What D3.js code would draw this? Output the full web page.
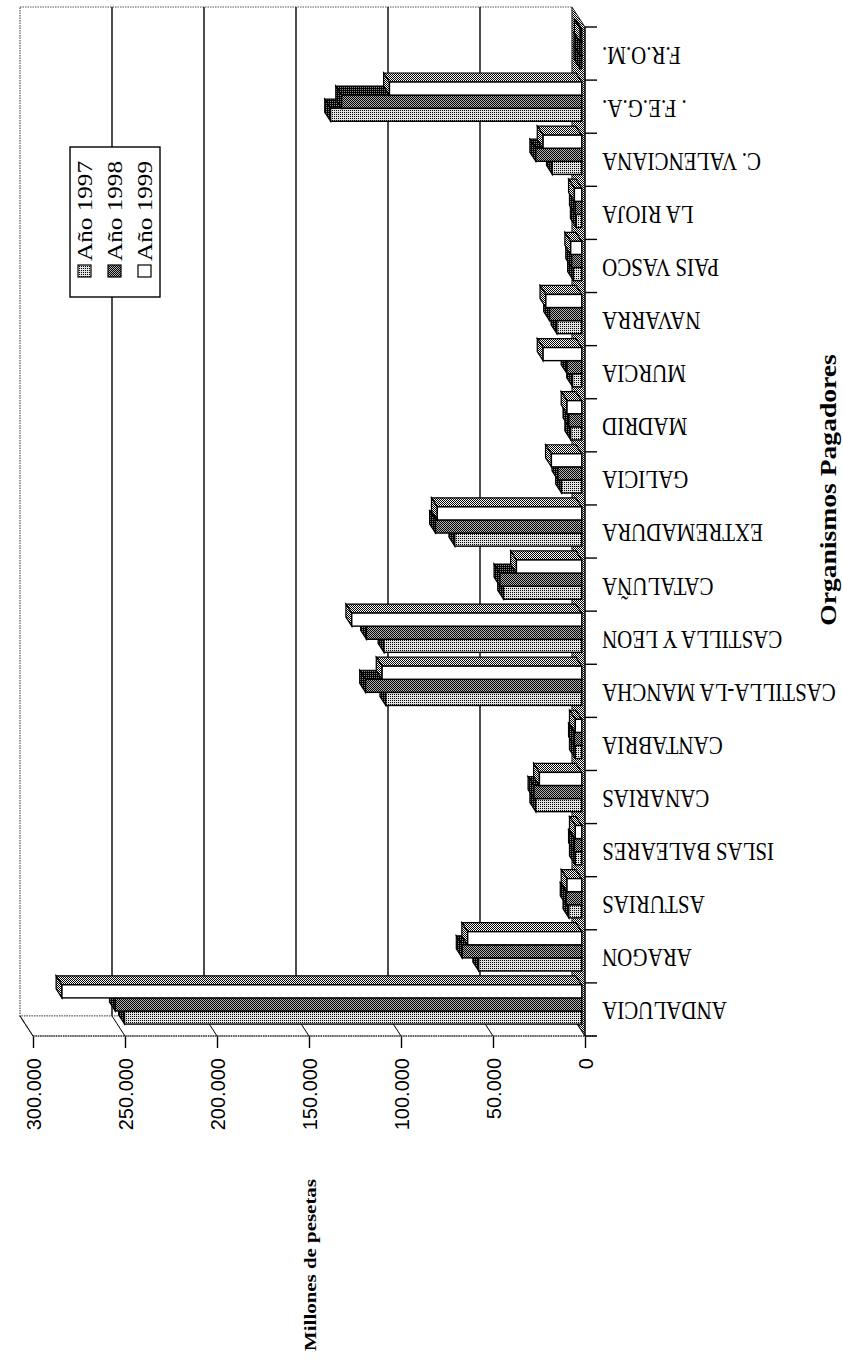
<!DOCTYPE html>
<html>
<head>
<meta charset="utf-8">
<script src="https://cdn.jsdelivr.net/npm/d3@7"></script>
<style>
  body { margin: 0; background: #fff; }
</style>
</head>
<body>
<div class="chart"></div>
<script>
// data (millones de pesetas)
var categories = ["ANDALUCIA", "ARAGON", "ASTURIAS", "ISLAS BALEARES", "CANARIAS", "CANTABRIA",
  "CASTILLA-LA MANCHA", "CASTILLA Y LEON", "CATALUÑA", "EXTREMADURA", "GALICIA", "MADRID",
  "MURCIA", "NAVARRA", "PAIS VASCO", "LA RIOJA", "C. VALENCIANA", ". F.E.G.A.", "F.R.O.M."];
var seriesNames = ["Año 1997", "Año 1998", "Año 1999"];
var y1997 = [248500, 56000, 7000, 3500, 25000, 3500, 106500, 107500, 42500, 69000, 11000, 6000, 5000, 13500, 4500, 3000, 16000, 136500, 1000];
var y1998 = [253500, 65000, 8500, 4000, 26000, 4000, 117500, 117000, 44500, 79500, 13000, 7000, 8000, 17500, 5500, 3500, 25000, 130500, 1000];
var y1999 = [282500, 62000, 8000, 3500, 23000, 3500, 108500, 125000, 35500, 78500, 16500, 8000, 21000, 19500, 6000, 4000, 21000, 104500, 800];
var valueTicks = [0, 50000, 100000, 150000, 200000, 250000, 300000];

var svgWidth = 843;
var svgHeight = 1369;

// front plane of the chart and the 3D depth offset
var front = { left: 33, right: 585, top: 27, bottom: 1036 };
var DX = -13, DY = -20;

var svg = d3.select(".chart")
  .append("svg")
  .attr("width", svgWidth)
  .attr("height", svgHeight)
  .style("font-family", "'Liberation Serif', 'Times New Roman', serif");

// stipple patterns like the printed greys
var defs = svg.append("defs");
function makePattern(id, size, bg, cells) {
  var p = defs.append("pattern")
    .attr("id", id)
    .attr("width", size)
    .attr("height", size)
    .attr("patternUnits", "userSpaceOnUse");
  p.append("rect").attr("width", size).attr("height", size).attr("fill", bg);
  cells.forEach(function (c) {
    p.append("rect").attr("x", c[0]).attr("y", c[1]).attr("width", 1).attr("height", 1).attr("fill", "#000");
  });
}
makePattern("p97", 2, "#e2e2e2", [[0, 0]]);
makePattern("p98", 2, "#b0b0b0", [[0, 0], [1, 1]]);
makePattern("pwall", 2, "#fff", [[0, 0], [1, 1]]);
makePattern("pside", 2, "#888", [[0, 0], [1, 1], [1, 0]]);
makePattern("pside99", 2, "#fff", [[0, 0], [1, 1]]);

var frontFill = { "Año 1997": "url(#p97)", "Año 1998": "url(#p98)", "Año 1999": "#fff" };
var sideFill = { "Año 1997": "url(#pside)", "Año 1998": "url(#pside)", "Año 1999": "url(#pside99)" };

// scales
var xScale = d3.scaleLinear()
  .domain([0, 300000])
  .range([front.right, front.left]);

var yScale = d3.scaleBand()
  .domain(categories)
  .range([front.bottom, front.top]);

var bw = yScale.bandwidth();
var ySub = d3.scaleBand()
  .domain(["Año 1999", "Año 1998", "Año 1997"])
  .range([0.13 * bw, 0.87 * bw]);

// back wall with gridlines
var backLeft = front.left + DX, backRight = front.right + DX;
var backTop = front.top + DY, backBottom = front.bottom + DY;

svg.append("rect")
  .attr("x", backLeft)
  .attr("y", backTop)
  .attr("width", backRight - backLeft)
  .attr("height", backBottom - backTop)
  .attr("fill", "#fff")
  .attr("stroke", "#555")
  .attr("stroke-width", 1.2)
  .attr("stroke-dasharray", "1.5,1");

svg.append("g")
  .selectAll("line")
  .data(valueTicks.filter(function (v) { return v > 0 && v < 300000; }))
  .enter()
  .append("line")
  .attr("x1", function (d) { return xScale(d) + DX; })
  .attr("x2", function (d) { return xScale(d) + DX; })
  .attr("y1", backTop)
  .attr("y2", backBottom)
  .attr("stroke", "#000")
  .attr("stroke-width", 1.4);

// side wall along the category axis
svg.append("polygon")
  .attr("points", [[front.right, front.top], [front.right, front.bottom],
    [backRight, backBottom], [backRight, backTop]].join(" "))
  .attr("fill", "url(#pwall)")
  .attr("stroke", "#333")
  .attr("stroke-width", 1);

// floor along the value axis
svg.append("polygon")
  .attr("points", [[front.left, front.bottom], [front.right, front.bottom],
    [backRight, backBottom], [backLeft, backBottom]].join(" "))
  .attr("fill", "#fff")
  .attr("stroke", "#666")
  .attr("stroke-width", 1.2)
  .attr("stroke-dasharray", "1.5,1");

svg.append("g")
  .selectAll("line")
  .data(valueTicks)
  .enter()
  .append("line")
  .attr("x1", function (d) { return xScale(d); })
  .attr("x2", function (d) { return xScale(d) + DX; })
  .attr("y1", front.bottom)
  .attr("y2", backBottom)
  .attr("stroke", "#000")
  .attr("stroke-width", 1);

// bars: drawn bottom-up so upper bars cover the hidden top faces
var f1 = 0.25, f2 = 0.7;
var ex = DX * (f2 - f1), ey = DY * (f2 - f1);
var seriesValues = { "Año 1997": y1997, "Año 1998": y1998, "Año 1999": y1999 };

var barData = [];
categories.forEach(function (c, i) {
  seriesNames.forEach(function (s) {
    barData.push({ cat: c, series: s, value: seriesValues[s][i] });
  });
});

var barGroup = svg.append("g");
barData.forEach(function (d) {
  var yt = yScale(d.cat) + ySub(d.series) + DY * f1;
  var yb = yt + ySub.bandwidth();
  var xr = xScale(0) + DX * f1;
  var xl = xScale(d.value) + DX * f1;
  var g = barGroup.append("g");
  // top face
  g.append("polygon")
    .attr("points", [[xl, yt], [xr, yt], [xr + ex, yt + ey], [xl + ex, yt + ey]].join(" "))
    .attr("fill", sideFill[d.series])
    .attr("stroke", "#000")
    .attr("stroke-width", 1.2);
  // end face
  g.append("polygon")
    .attr("points", [[xl, yt], [xl, yb], [xl + ex, yb + ey], [xl + ex, yt + ey]].join(" "))
    .attr("fill", sideFill[d.series])
    .attr("stroke", "#000")
    .attr("stroke-width", 1.2);
  // front face
  g.append("rect")
    .attr("x", xl)
    .attr("y", yt)
    .attr("width", xr - xl)
    .attr("height", yb - yt)
    .attr("fill", frontFill[d.series])
    .attr("stroke", "#000")
    .attr("stroke-width", 1.4);
});

// value axis
var fmt = function (v) { return d3.format(",")(v).replace(/,/g, "."); };
var bottomAxis = d3.axisBottom(xScale)
  .tickValues(valueTicks)
  .tickFormat(fmt)
  .tickSize(12)
  .tickSizeOuter(0);

var xAxis = svg.append("g")
  .attr("transform", "translate(0," + front.bottom + ")")
  .call(bottomAxis);
xAxis.select(".domain").remove();
xAxis.selectAll("line").attr("stroke", "#000").attr("stroke-width", 1.4);
xAxis.selectAll("text")
  .attr("transform", "rotate(-90)")
  .attr("x", -22)
  .attr("y", 0)
  .attr("dy", "0.35em")
  .attr("text-anchor", "end")
  .style("font-family", "'Liberation Sans', Arial, sans-serif")
  .style("font-size", "20px")
  .attr("fill", "#000");

svg.append("line")
  .attr("x1", front.left)
  .attr("x2", front.right + 12)
  .attr("y1", front.bottom)
  .attr("y2", front.bottom)
  .attr("stroke", "#444")
  .attr("stroke-width", 1.5)
  .attr("stroke-dasharray", "1.5,0.8");

// category axis: ticks on band edges, labels upside down
var edges = categories.map(function (c) { return yScale(c); }).concat([front.bottom]);
svg.append("line")
  .attr("x1", front.right)
  .attr("x2", front.right)
  .attr("y1", front.top)
  .attr("y2", front.bottom)
  .attr("stroke", "#000")
  .attr("stroke-width", 1.2);

svg.append("g")
  .selectAll("line")
  .data(edges)
  .enter()
  .append("line")
  .attr("x1", front.right)
  .attr("x2", front.right + 12)
  .attr("y1", function (d) { return d; })
  .attr("y2", function (d) { return d; })
  .attr("stroke", "#000")
  .attr("stroke-width", 1.4);

svg.append("g")
  .selectAll("text")
  .data(categories)
  .enter()
  .append("text")
  .attr("transform", function (d) {
    return "translate(602," + (yScale(d) + bw / 2) + ") rotate(180) scale(0.84,1)";
  })
  .attr("y", 7)
  .attr("text-anchor", "end")
  .style("font-size", "25px")
  .attr("fill", "#000")
  .text(function (d) { return d; });

// axis titles
svg.append("text")
  .attr("transform", "translate(316,1265) rotate(-90) scale(1.23,1)")
  .attr("text-anchor", "middle")
  .style("font-size", "17px")
  .style("font-weight", "bold")
  .text("Millones de pesetas");

svg.append("text")
  .attr("transform", "translate(836,490) rotate(-90) scale(1.15,1)")
  .attr("text-anchor", "middle")
  .style("font-size", "24px")
  .style("font-weight", "bold")
  .text("Organismos Pagadores");

// legend
var legend = svg.append("g");
legend.append("rect")
  .attr("x", 70)
  .attr("y", 147)
  .attr("width", 90)
  .attr("height", 150)
  .attr("fill", "#fff")
  .attr("stroke", "#000")
  .attr("stroke-width", 1.4);

var legendItems = legend.selectAll("g.item")
  .data(seriesNames)
  .enter()
  .append("g")
  .attr("class", "item")
  .attr("transform", function (d, i) { return "translate(" + (85 + i * 30) + ",0)"; });

legendItems.append("rect")
  .attr("x", -7)
  .attr("y", 265)
  .attr("width", 13)
  .attr("height", 12)
  .attr("fill", function (d) { return frontFill[d]; })
  .attr("stroke", "#000")
  .attr("stroke-width", 1.2);

legendItems.append("text")
  .attr("transform", "translate(7,261) rotate(-90) scale(1.2,1)")
  .attr("text-anchor", "start")
  .style("font-size", "21px")
  .text(function (d) { return d; });
</script>
</body>
</html>
